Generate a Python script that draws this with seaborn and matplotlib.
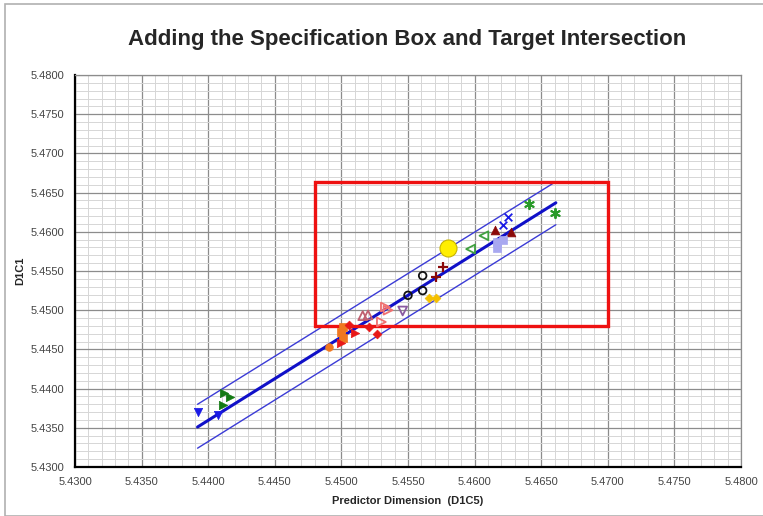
import numpy as np
import pandas as pd
import matplotlib.pyplot as plt
import seaborn as sns
from matplotlib.patches import Rectangle
from matplotlib.ticker import MultipleLocator, FormatStrFormatter

# measured parts, one entry per symbol group: (x values, y values)
blue_tri_x = [5.4392, 5.4407]
blue_tri_y = [5.4370, 5.4366]
green_tri_x = [5.4412, 5.4416, 5.4411]
green_tri_y = [5.4394, 5.4389, 5.4379]
orange_circ_x = [5.4491]
orange_circ_y = [5.4453]
orange_sq_x = [5.4500, 5.4501, 5.4501]
orange_sq_y = [5.4472, 5.4478, 5.4464]
red_tri_x = [5.4500, 5.4510]
red_tri_y = [5.4458, 5.4471]
red_dia_x = [5.4506, 5.4521, 5.4527]
red_dia_y = [5.4481, 5.4479, 5.4470]
pink_tri_x = [5.4530, 5.4535, 5.4533]
pink_tri_y = [5.4485, 5.4500, 5.4504]
pink_up_x = [5.4516, 5.4520]
pink_up_y = [5.4493, 5.4494]
purple_dn_x = [5.4546]
purple_dn_y = [5.4499]
black_circ_x = [5.4550, 5.4561, 5.4561]
black_circ_y = [5.4519, 5.4525, 5.4544]
gold_dia_x = [5.4566, 5.4571]
gold_dia_y = [5.4516, 5.4516]
plus_x = [5.4571, 5.4576]
plus_y = [5.4542, 5.4555]
green_left_x = [5.4597, 5.4607]
green_left_y = [5.4578, 5.4595]
darkred_up_x = [5.4615, 5.4627]
darkred_up_y = [5.4602, 5.4600]
lav_sq_x = [5.4617, 5.4621, 5.4617]
lav_sq_y = [5.4579, 5.4590, 5.4587]
blue_x_x = [5.4621, 5.4625]
blue_x_y = [5.4609, 5.4619]
green_star_x = [5.4641, 5.4660]
green_star_y = [5.4636, 5.4624]

target_x = [5.4580]
target_y = [5.4579]

# fitted line and limit lines (end points)
fit_x = [5.4392, 5.4661]
fit_y = [5.4351, 5.4637]
upper_y = [5.4380, 5.4664]
lower_y = [5.4324, 5.4609]

# specification box
spec_x = [5.4480, 5.4700]
spec_y = [5.4480, 5.4663]

sns.set_style("white")
plt.rcParams['font.family'] = ['Liberation Sans', 'DejaVu Sans']

fig = plt.figure(figsize=(7.63, 5.16), dpi=100)
ax = fig.add_axes([75 / 763, 1 - 467 / 516, 666 / 763, 392 / 516])

# outer chart frame
fig.patches.append(Rectangle((5 / 763, 0.0), 1.0, 1 - 4 / 516, transform=fig.transFigure,
                             fill=False, edgecolor="#b0b0b0", linewidth=1.2))

sns.lineplot(x=fit_x, y=upper_y, ax=ax, color="#3b3bd6", linewidth=1.0)
sns.lineplot(x=fit_x, y=lower_y, ax=ax, color="#3b3bd6", linewidth=1.0)
sns.lineplot(x=fit_x, y=fit_y, ax=ax, color="#1010c8", linewidth=2.2)

groups = [
    (blue_tri_x, blue_tri_y, "v", "#1a1ae6", True, 36),
    (green_tri_x, green_tri_y, ">", "#137a13", True, 36),
    (orange_circ_x, orange_circ_y, "o", "#f07820", True, 30),
    (orange_sq_x, orange_sq_y, "s", "#f07820", True, 36),
    (red_tri_x, red_tri_y, ">", "#e81818", True, 36),
    (red_dia_x, red_dia_y, "D", "#e81818", True, 20),
    (pink_tri_x, pink_tri_y, ">", "#f07070", False, 40),
    (pink_up_x, pink_up_y, "^", "#c06070", False, 40),
    (purple_dn_x, purple_dn_y, "v", "#8a5aa0", False, 40),
    (black_circ_x, black_circ_y, "o", "#111111", False, 30),
    (gold_dia_x, gold_dia_y, "D", "#f5c000", True, 20),
    (green_left_x, green_left_y, "<", "#40a040", False, 40),
    (darkred_up_x, darkred_up_y, "^", "#8b0a0a", True, 40),
    (lav_sq_x, lav_sq_y, "s", "#a8a8f0", True, 40),
]
for gx, gy, mk, col, filled, size in groups:
    if filled:
        sns.scatterplot(x=gx, y=gy, ax=ax, marker=mk, color=col, s=size,
                        edgecolor=col, linewidth=0.5, zorder=4)
    else:
        sns.scatterplot(x=gx, y=gy, ax=ax, marker=mk, s=size, facecolor="none",
                        edgecolor=col, linewidth=1.3, zorder=4)

sns.scatterplot(x=plus_x, y=plus_y, ax=ax, marker="+", color="#8b0a0a", s=45,
                linewidth=1.6, zorder=4)
sns.scatterplot(x=blue_x_x, y=blue_x_y, ax=ax, marker="x", color="#1a1ae6", s=30,
                linewidth=1.3, zorder=4)
sns.scatterplot(x=green_star_x, y=green_star_y, ax=ax, marker=(6, 2, 0), color="#2a9a2a",
                s=45, linewidth=1.4, zorder=4)

sns.scatterplot(x=target_x, y=target_y, ax=ax, marker="o", color="#ffee00", s=150,
                edgecolor="#c8b400", linewidth=0.8, zorder=5)

ax.add_patch(Rectangle((spec_x[0], spec_y[0]), spec_x[1] - spec_x[0], spec_y[1] - spec_y[0],
                       fill=False, edgecolor="#ee1111", linewidth=2.4, zorder=3))

ax.set_xlim(5.43, 5.48)
ax.set_ylim(5.43, 5.48)
ax.xaxis.set_major_locator(MultipleLocator(0.005))
ax.yaxis.set_major_locator(MultipleLocator(0.005))
ax.xaxis.set_minor_locator(MultipleLocator(0.001))
ax.yaxis.set_minor_locator(MultipleLocator(0.001))
ax.xaxis.set_major_formatter(FormatStrFormatter("%.4f"))
ax.yaxis.set_major_formatter(FormatStrFormatter("%.4f"))
ax.grid(which="major", color="#8c8c8c", linewidth=0.9)
ax.grid(which="minor", color="#d6d6d6", linewidth=0.7)
ax.set_axisbelow(True)

ax.tick_params(axis="both", which="major", direction="out", length=4, width=1,
               labelsize=8, labelcolor="#444444", color="black")
ax.tick_params(axis="both", which="minor", length=0)
for side in ["left", "bottom"]:
    ax.spines[side].set_color("black")
    ax.spines[side].set_linewidth(1.6)
for side in ["top", "right"]:
    ax.spines[side].set_color("#8c8c8c")
    ax.spines[side].set_linewidth(0.9)

ax.set_xlabel("Predictor Dimension  (D1C5)", fontsize=8, fontweight="bold", labelpad=6)
ax.set_ylabel("D1C1", fontsize=8, fontweight="bold", labelpad=4)
fig.text(407 / 763, 1 - 40 / 516, "Adding the Specification Box and Target Intersection",
         ha="center", va="center", fontsize=16, fontweight="bold")

fig.savefig("out.png", dpi=100)
